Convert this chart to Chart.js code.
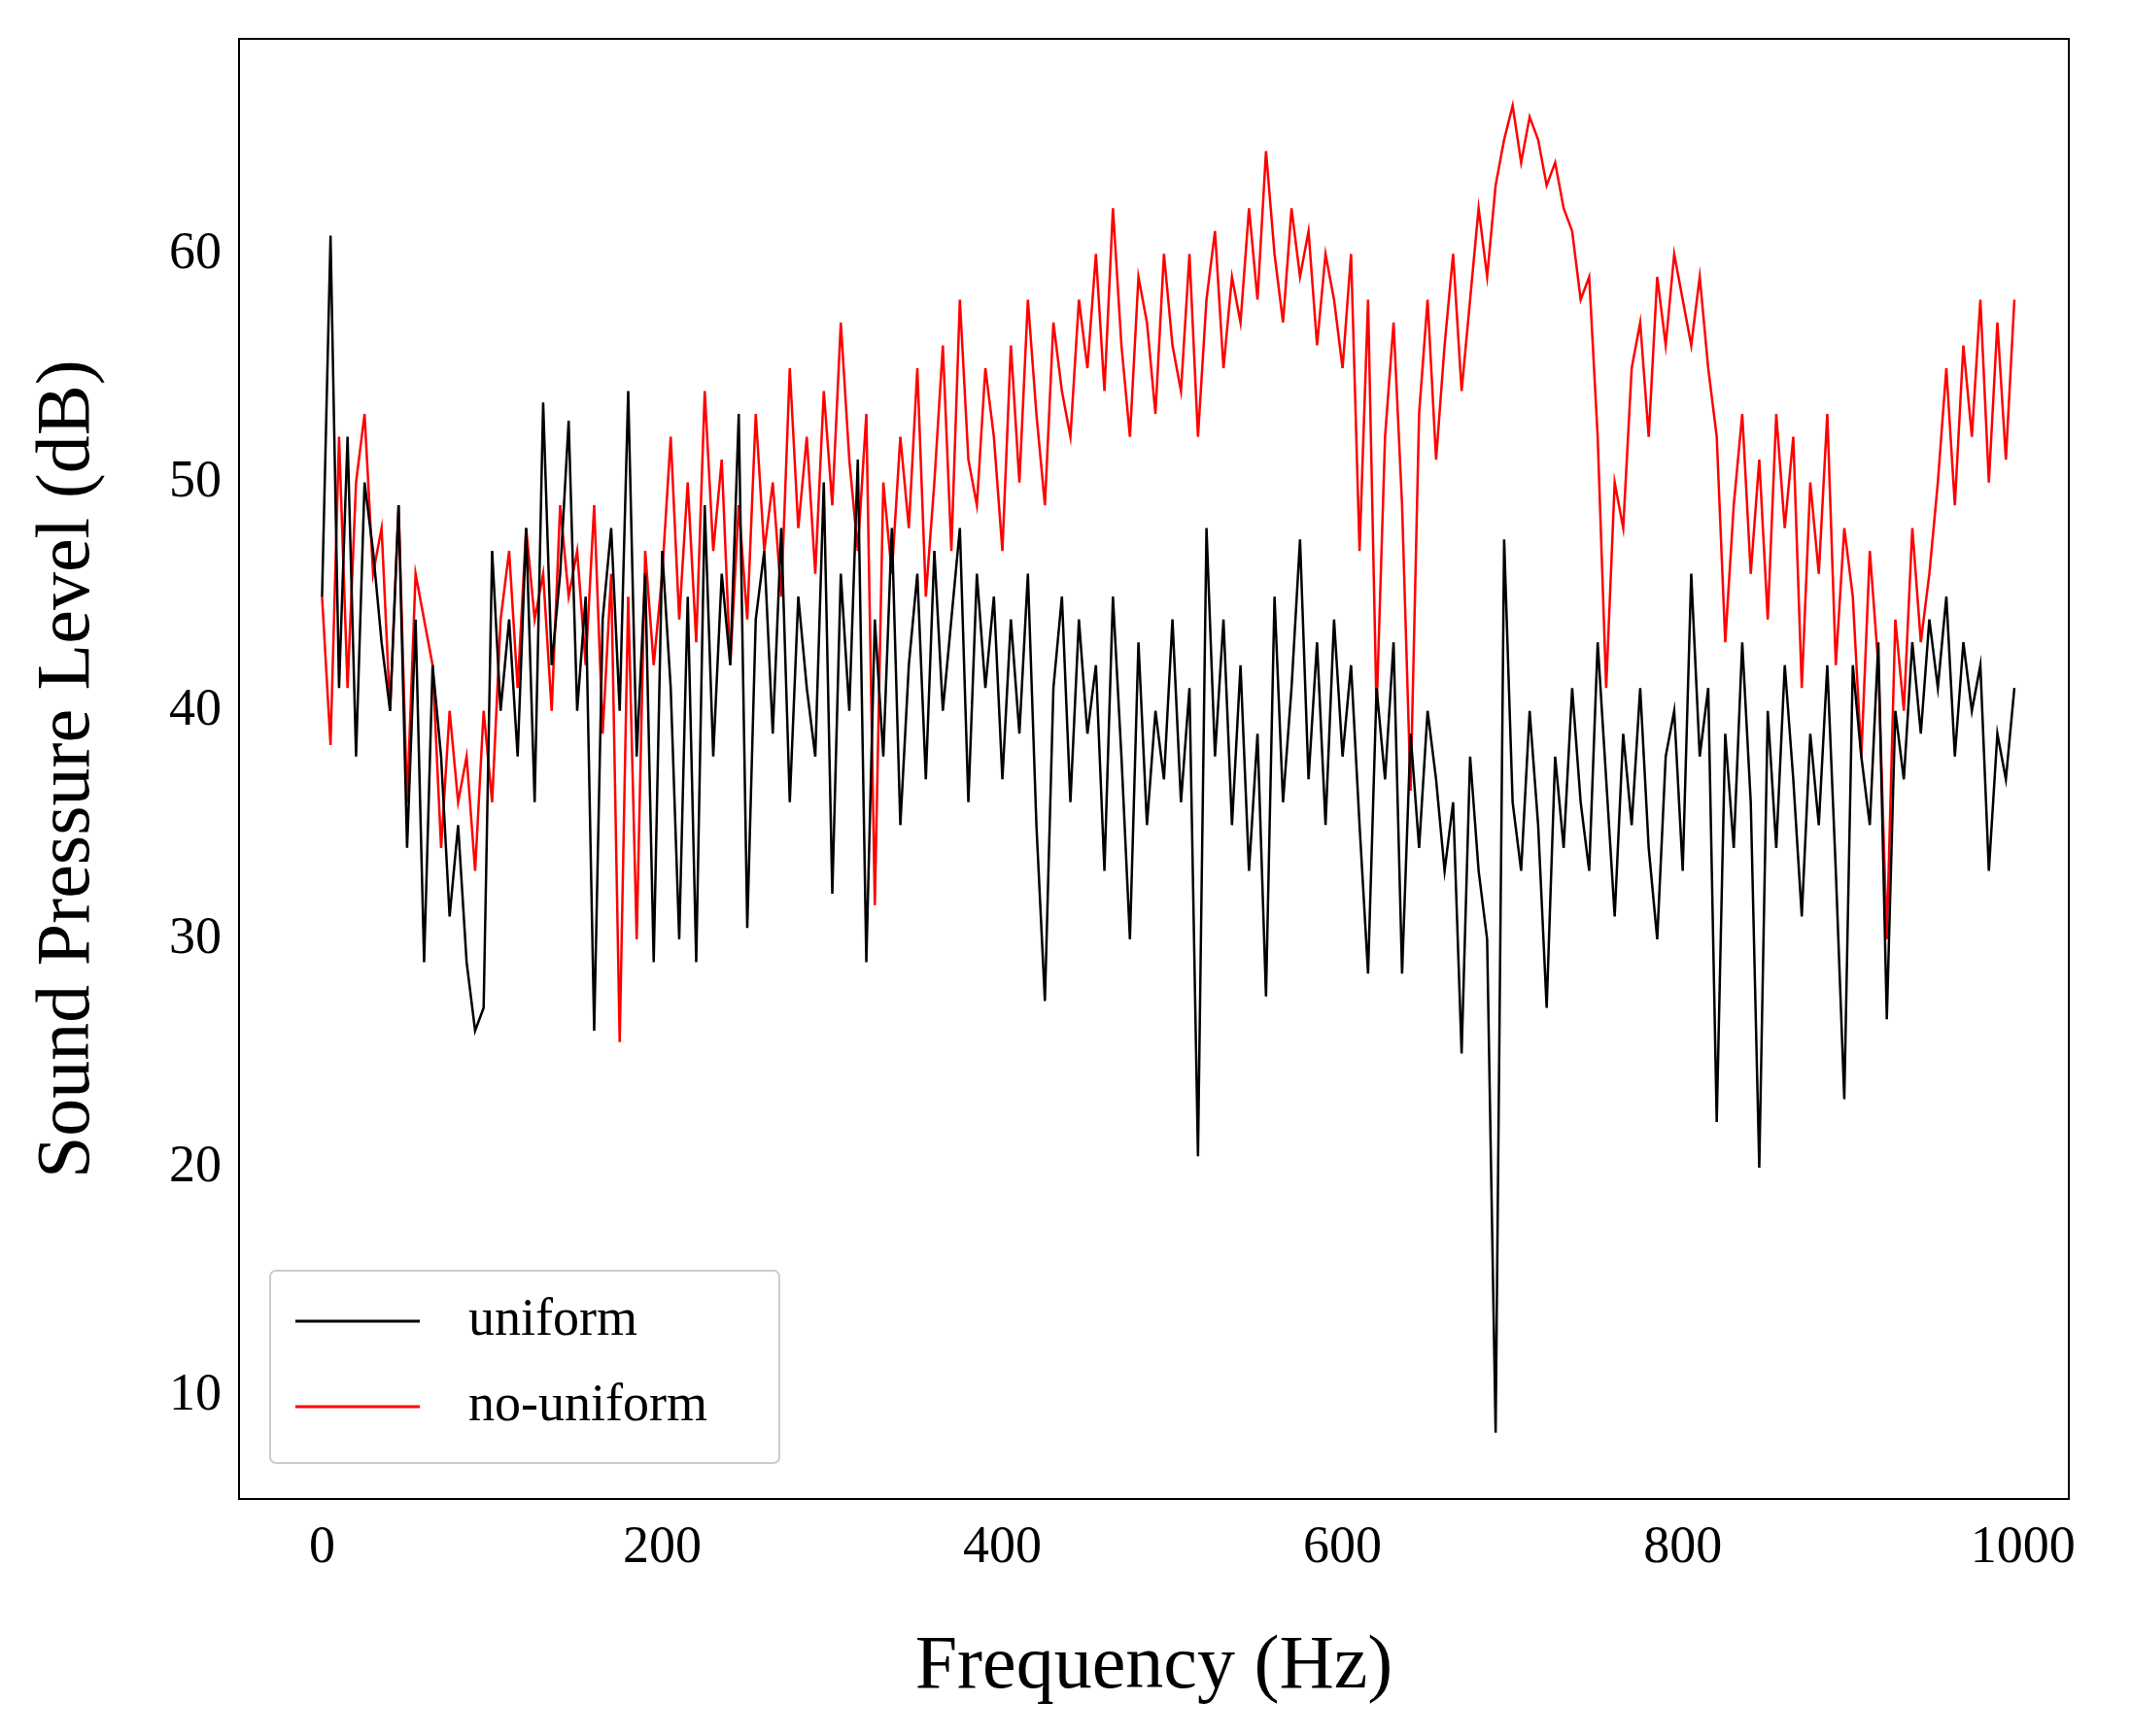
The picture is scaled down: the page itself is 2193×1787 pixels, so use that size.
<!DOCTYPE html>
<html>
<head>
<meta charset="UTF-8" />
<title>Sound Pressure Level</title>
<script src="https://cdn.jsdelivr.net/npm/chart.js"></script>
<style>
  body { margin: 0; background: #fff; }
  #wrap { width: 2193px; height: 1787px; }
</style>
</head>
<body>
<div id="wrap"><canvas id="spl"></canvas></div>
<script>
// frequency step of the sampled points (Hz)
var step = 5;
var xTicks = [0, 200, 400, 600, 800, 1000];
var yTicks = [10, 20, 30, 40, 50, 60];

var uniform = [
  45, 60.8, 41, 52, 38, 50, 47, 43, 40, 49, 34, 44, 29, 42, 38, 31, 35, 29, 26, 27,
  47, 40, 44, 38, 48, 36, 53.5, 42, 46, 52.7, 40, 45, 26, 44, 48, 40, 54, 38, 46, 29,
  47, 41, 30, 45, 29, 49, 38, 46, 42, 53, 30.5, 44, 47, 39, 48, 36, 45, 41, 38, 50,
  32, 46, 40, 51, 29, 44, 38, 48, 35, 42, 46, 37, 47, 40, 44, 48, 36, 46, 41, 45,
  37, 44, 39, 46, 35, 27.3, 41, 45, 36, 44, 39, 42, 33, 45, 38, 30, 43, 35, 40, 37,
  44, 36, 41, 20.5, 48, 38, 44, 35, 42, 33, 39, 27.5, 45, 36, 41, 47.5, 37, 43, 35, 44,
  38, 42, 35, 28.5, 41, 37, 43, 28.5, 39, 34, 40, 37, 33, 36, 25, 38, 33, 30, 8.4, 47.5,
  36, 33, 40, 35, 27, 38, 34, 41, 36, 33, 43, 37, 31, 39, 35, 41, 34, 30, 38, 40,
  33, 46, 38, 41, 22, 39, 34, 43, 36, 20, 40, 34, 42, 37, 31, 39, 35, 42, 33, 23,
  42, 38, 35, 43, 26.5, 40, 37, 43, 39, 44, 41, 45, 38, 43, 40, 42, 33, 39, 37, 41
];

var noUniform = [
  45, 38.5, 52, 41, 50, 53, 46, 48, 40, 49, 36, 46, 44, 42, 34, 40, 36, 38, 33, 40,
  36, 44, 47, 41, 48, 44, 46, 40, 49, 45, 47, 42, 49, 39, 46, 25.5, 45, 30, 47, 42,
  46, 52, 44, 50, 43, 54, 47, 51, 42, 49, 44, 53, 47, 50, 45, 55, 48, 52, 46, 54,
  49, 57, 51, 47, 53, 31.5, 50, 46, 52, 48, 55, 45, 50, 56, 47, 58, 51, 49, 55, 52,
  47, 56, 50, 58, 53, 49, 57, 54, 52, 58, 55, 60, 54, 62, 56, 52, 59, 57, 53, 60,
  56, 54, 60, 52, 58, 61, 55, 59, 57, 62, 58, 64.5, 60, 57, 62, 59, 61, 56, 60, 58,
  55, 60, 47, 58, 40, 52, 57, 49, 36.5, 53, 58, 51, 56, 60, 54, 58, 62, 59, 63, 65,
  66.5, 64, 66, 65, 63, 64, 62, 61, 58, 59, 52, 41, 50, 48, 55, 57, 52, 59, 56, 60,
  58, 56, 59, 55, 52, 43, 49, 53, 46, 51, 44, 53, 48, 52, 41, 50, 46, 53, 42, 48,
  45, 38, 47, 42, 30, 44, 40, 48, 43, 46, 50, 55, 49, 56, 52, 58, 50, 57, 51, 58
];

function toPoints(arr) {
  return arr.map(function (v, i) { return { x: i * step, y: v }; });
}

var serif = "'Liberation Serif', 'DejaVu Serif', serif";

// legend box drawn inside the plot, bottom-left
var legendBox = {
  id: 'legendBox',
  afterDraw: function (chart) {
    var ctx = chart.ctx, a = chart.chartArea;
    var x = a.left + 32, y = a.bottom - 235, w = 524, h = 198;
    ctx.save();
    ctx.fillStyle = 'rgba(255,255,255,0.8)';
    ctx.strokeStyle = '#cccccc';
    ctx.lineWidth = 2;
    ctx.beginPath();
    ctx.roundRect(x, y, w, h, 6);
    ctx.fill();
    ctx.stroke();
    var items = [['uniform', '#000000'], ['no-uniform', '#ff0000']];
    ctx.font = '54px ' + serif;
    ctx.textBaseline = 'middle';
    items.forEach(function (it, i) {
      var ly = y + 52 + i * 88;
      ctx.strokeStyle = it[1];
      ctx.lineWidth = 3;
      ctx.beginPath();
      ctx.moveTo(x + 26, ly);
      ctx.lineTo(x + 154, ly);
      ctx.stroke();
      ctx.fillStyle = '#000';
      ctx.fillText(it[0], x + 204, ly);
    });
    ctx.restore();
  }
};

new Chart(document.getElementById('spl'), {
  type: 'scatter',
  data: {
    datasets: [
      { label: 'uniform', data: toPoints(uniform), showLine: true, borderColor: '#000000', borderWidth: 2.5, pointRadius: 0, tension: 0 },
      { label: 'no-uniform', data: toPoints(noUniform), showLine: true, borderColor: '#ff0000', borderWidth: 2.5, pointRadius: 0, tension: 0 }
    ]
  },
  options: {
    responsive: true,
    maintainAspectRatio: false,
    animation: false,
    layout: { padding: { left: 20, right: 64, top: 38, bottom: 20 } },
    plugins: { legend: { display: false }, tooltip: { enabled: false } },
    scales: {
      x: {
        type: 'linear', min: -48.8, max: 1027,
        afterBuildTicks: function (s) { s.ticks = xTicks.map(function (v) { return { value: v }; }); },
        afterFit: function (s) { s.height = 224; },
        grid: { display: false, drawTicks: true, tickLength: 10, tickColor: '#000' },
        border: { color: '#000', width: 2 },
        ticks: { color: '#000', font: { family: serif, size: 54 }, padding: 8, maxRotation: 0,
                 callback: function (v) { return String(v); } },
        title: { display: true, text: 'Frequency (Hz)', color: '#000', font: { family: serif, size: 78 }, padding: { top: 4 } }
      },
      y: {
        min: 5.5, max: 69.4,
        afterBuildTicks: function (s) { s.ticks = yTicks.map(function (v) { return { value: v }; }); },
        afterFit: function (s) { s.width = 226; },
        grid: { display: false, drawTicks: true, tickLength: 10, tickColor: '#000' },
        border: { color: '#000', width: 2 },
        ticks: { color: '#000', font: { family: serif, size: 54 }, padding: 8 },
        title: { display: true, text: 'Sound Pressure Level (dB)', color: '#000', font: { family: serif, size: 78 }, padding: { bottom: 10 } }
      },
      x2: {
        type: 'linear', position: 'top', display: true,
        grid: { display: false, drawTicks: false }, ticks: { display: false },
        border: { color: '#000', width: 2 }
      },
      y2: {
        position: 'right', display: true,
        grid: { display: false, drawTicks: false }, ticks: { display: false },
        border: { color: '#000', width: 2 }
      }
    }
  },
  plugins: [legendBox]
});
</script>
</body>
</html>
